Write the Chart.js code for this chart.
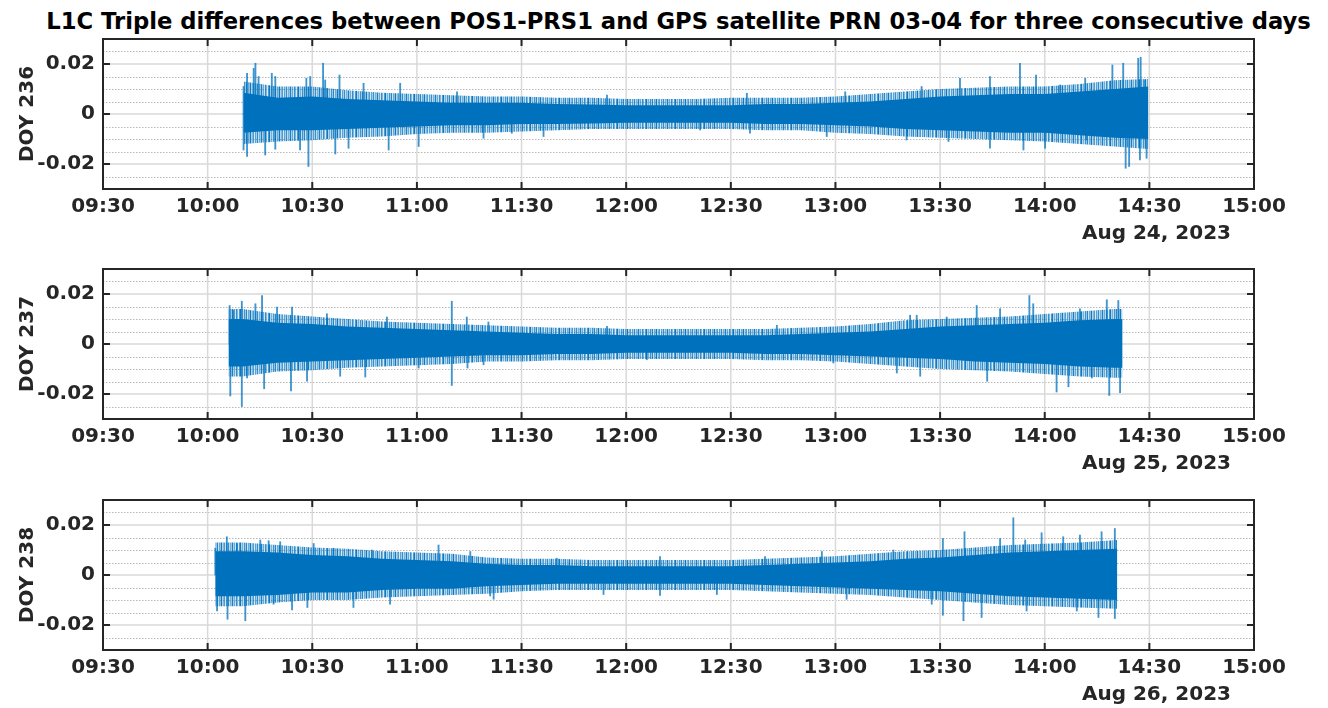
<!DOCTYPE html>
<html>
<head>
<meta charset="utf-8">
<script src="https://cdn.jsdelivr.net/npm/chart.js@4.4.1/dist/chart.umd.min.js"></script>
<style>
  html, body { margin: 0; padding: 0; background: #fff; overflow: hidden; }
  body { width: 1328px; height: 708px; position: relative; }
  #title {
    position: absolute; left: 0; top: 8px; width: 1357px;
    text-align: center; font: bold 22.7px "DejaVu Sans", sans-serif;
    line-height: 26px; color: #000; white-space: nowrap;
  }
  canvas { position: absolute; left: 0; }
</style>
</head>
<body>
<div id="title">L1C Triple differences between POS1-PRS1 and GPS satellite PRN 03-04 for three consecutive days</div>
<canvas id="c236" width="1328" height="220" style="top:30px"></canvas>
<canvas id="c237" width="1328" height="220" style="top:260px"></canvas>
<canvas id="c238" width="1328" height="220" style="top:491px"></canvas>
<script>
// x axis: minutes after 09:30
const timeTicks = ['09:30', '10:00', '10:30', '11:00', '11:30', '12:00', '12:30', '13:00', '13:30', '14:00', '14:30', '15:00'];
const yTickValues = [-0.02, 0, 0.02];
const yTickLabels = ['-0.02', '0', '0.02'];

// ---- DOY 236 (Aug 24) ----
const t236 = [40.3, 50, 60, 70, 80, 90, 100, 110, 120, 130, 140, 150, 160, 170, 180, 190, 200, 210, 220, 230, 240, 250, 260, 270, 280, 290, 299.7];
const coreHi236 = [0.0085, 0.0065, 0.007, 0.006, 0.0055, 0.005, 0.0045, 0.0045, 0.0045, 0.004, 0.0038, 0.0035, 0.0035, 0.0035, 0.0035, 0.004, 0.004, 0.0045, 0.005, 0.006, 0.007, 0.0075, 0.008, 0.008, 0.009, 0.010, 0.011];
const coreLo236 = [-0.0075, -0.0065, -0.0065, -0.006, -0.0055, -0.005, -0.0045, -0.0045, -0.004, -0.004, -0.0038, -0.0035, -0.0035, -0.0035, -0.0035, -0.004, -0.004, -0.0045, -0.005, -0.006, -0.0065, -0.007, -0.0075, -0.0075, -0.0085, -0.0095, -0.010];
const outerHi236 = [0.013, 0.011, 0.011, 0.0095, 0.0085, 0.008, 0.0075, 0.007, 0.007, 0.0065, 0.0065, 0.006, 0.006, 0.006, 0.0065, 0.0065, 0.0065, 0.007, 0.008, 0.009, 0.010, 0.0105, 0.011, 0.011, 0.012, 0.0135, 0.014];
const outerLo236 = [-0.012, -0.011, -0.0105, -0.0095, -0.009, -0.008, -0.0075, -0.0075, -0.007, -0.0065, -0.006, -0.006, -0.006, -0.006, -0.006, -0.0065, -0.0065, -0.0075, -0.008, -0.009, -0.0095, -0.010, -0.0105, -0.011, -0.012, -0.013, -0.014];
const spikes236 = [
  [40.3, 0.011], [40.3, -0.0144], [41.3, 0.0163], [41.3, -0.017], [43.2, 0.0183], [43.7, 0.0203], [44.6, 0.015],
  [46.5, -0.0164], [48.4, 0.0163], [49.4, 0.015], [49.4, -0.0141], [56.5, -0.0144], [58.3, 0.0143], [58.9, -0.021],
  [59.4, 0.015], [63.1, 0.0203], [63.7, 0.0136], [66.6, -0.016], [67.8, 0.0156], [70.4, -0.0137], [74.7, 0.0123],
  [81.9, -0.0144], [85.2, 0.0123], [90.5, -0.013], [101.5, 0.0089], [109.1, -0.0097], [117.2, -0.0077], [126.3, -0.009],
  [144.5, 0.0076], [171.2, -0.0064], [184.6, 0.0083], [185.5, -0.0077], [207.5, -0.009], [212.8, 0.0089], [230.4, -0.0104],
  [234.7, 0.011], [242.4, -0.011], [245.7, 0.0143], [254.3, 0.015], [254.3, -0.0137], [262.9, 0.0203], [263.9, -0.0144],
  [267.5, 0.0156], [270.1, -0.0137], [274.4, 0.0116], [281.6, 0.0143], [281.9, -0.0104], [289.4, 0.0196], [292.5, 0.0203],
  [293.2, -0.0217], [294.2, -0.021], [296.8, 0.0223], [297.3, -0.0184], [297.5, 0.0227], [298.8, 0.0136], [299.2, -0.0177]
];

// ---- DOY 237 (Aug 25) ----
const t237 = [36, 40, 50, 60, 70, 80, 90, 100, 110, 120, 130, 140, 150, 160, 170, 180, 190, 200, 210, 220, 230, 240, 250, 260, 270, 280, 290, 292.3];
const coreHi237 = [0.010, 0.010, 0.0085, 0.008, 0.007, 0.0065, 0.006, 0.0055, 0.005, 0.0045, 0.004, 0.004, 0.0035, 0.0035, 0.0035, 0.0035, 0.0035, 0.004, 0.0045, 0.005, 0.006, 0.007, 0.0075, 0.008, 0.0085, 0.0095, 0.010, 0.010];
const coreLo237 = [-0.009, -0.009, -0.0075, -0.007, -0.0065, -0.006, -0.0055, -0.005, -0.0045, -0.0045, -0.004, -0.004, -0.0035, -0.0035, -0.0035, -0.0035, -0.004, -0.004, -0.0045, -0.005, -0.0055, -0.006, -0.007, -0.0075, -0.008, -0.009, -0.0095, -0.0095];
const outerHi237 = [0.014, 0.014, 0.012, 0.011, 0.010, 0.009, 0.0085, 0.008, 0.0075, 0.007, 0.0065, 0.0065, 0.006, 0.006, 0.006, 0.006, 0.006, 0.0065, 0.007, 0.008, 0.0095, 0.010, 0.0105, 0.011, 0.012, 0.013, 0.014, 0.014];
const outerLo237 = [-0.013, -0.013, -0.011, -0.0105, -0.0095, -0.009, -0.0085, -0.008, -0.007, -0.007, -0.0065, -0.0065, -0.006, -0.006, -0.006, -0.006, -0.0065, -0.0065, -0.007, -0.008, -0.009, -0.010, -0.0105, -0.011, -0.012, -0.013, -0.0135, -0.0135];
const spikes237 = [
  [36.3, 0.0154], [36.5, -0.0208], [37.4, 0.0134], [39.8, 0.0171], [39.8, -0.025], [41.3, -0.0136], [43.7, 0.0161],
  [45.6, 0.0194], [46.2, -0.0179], [49.9, 0.0148], [53.9, -0.0188], [54.2, 0.0148], [58.5, -0.0149], [64.2, 0.0121],
  [68, -0.0129], [75.2, -0.0132], [81.4, 0.0108], [90.5, -0.0096], [100, 0.0171], [100, -0.0166], [104.3, 0.0108],
  [104.5, -0.0096], [109.1, -0.0083], [110.5, 0.0088], [144.5, 0.0071], [155.9, -0.0063], [193.2, 0.0075], [209.4, -0.0076],
  [227.6, -0.0116], [231.4, 0.0115], [233.3, 0.0115], [234.3, -0.0129], [241.9, 0.0108], [250.5, 0.0154], [253.5, -0.0149],
  [257.2, 0.0141], [265.6, 0.0194], [266.7, 0.0161], [273.4, -0.0192], [276.8, -0.0171], [280.1, 0.0141], [283.5, -0.0136],
  [287.8, 0.0177], [288.5, -0.0206], [291.1, 0.0174], [291.6, -0.0195]
];

// ---- DOY 238 (Aug 26) ----
const t238 = [32.2, 40, 50, 60, 70, 80, 90, 100, 110, 120, 130, 140, 150, 160, 170, 180, 190, 200, 210, 220, 230, 240, 250, 260, 270, 280, 290.8];
const coreHi238 = [0.0095, 0.0095, 0.009, 0.008, 0.0075, 0.0065, 0.006, 0.0055, 0.0045, 0.004, 0.004, 0.0035, 0.0035, 0.0035, 0.0035, 0.0035, 0.004, 0.0045, 0.005, 0.0055, 0.0065, 0.007, 0.008, 0.009, 0.0095, 0.010, 0.0105];
const coreLo238 = [-0.0085, -0.0085, -0.008, -0.007, -0.007, -0.006, -0.0055, -0.0055, -0.0045, -0.004, -0.0035, -0.0035, -0.0035, -0.0035, -0.0035, -0.0035, -0.004, -0.0045, -0.005, -0.0055, -0.006, -0.0065, -0.0075, -0.0085, -0.009, -0.0095, -0.010];
const outerHi238 = [0.013, 0.013, 0.012, 0.011, 0.0105, 0.0095, 0.009, 0.0085, 0.007, 0.0065, 0.0065, 0.006, 0.006, 0.006, 0.006, 0.006, 0.0065, 0.007, 0.0075, 0.0085, 0.0095, 0.010, 0.011, 0.012, 0.0125, 0.013, 0.014];
const outerLo238 = [-0.0125, -0.0125, -0.011, -0.010, -0.010, -0.009, -0.0085, -0.008, -0.0075, -0.0065, -0.006, -0.006, -0.006, -0.006, -0.006, -0.006, -0.0065, -0.007, -0.0075, -0.008, -0.009, -0.010, -0.011, -0.012, -0.0125, -0.013, -0.0135];
const spikes238 = [
  [32.2, 0.0107], [32.7, -0.0144], [35.5, 0.0153], [35.7, -0.0177], [38.4, 0.0126], [40.8, -0.0183], [45.1, 0.014],
  [47.5, 0.0137], [48.9, -0.0117], [50.8, 0.0133], [54.2, -0.014], [58.6, -0.013], [60.4, 0.0126], [66.1, 0.0107],
  [71.8, -0.013], [77.1, 0.01], [82.3, -0.0117], [96.2, 0.012], [105.3, 0.0094], [111, -0.0084], [112, -0.0097],
  [130.1, 0.0067], [143.5, -0.0078], [159.7, 0.0074], [159.7, -0.0082], [176, -0.0078], [189.8, 0.0074], [206.1, 0.0094],
  [213.2, -0.0097], [226.6, 0.01], [237.6, -0.0117], [240.8, 0.0146], [240.8, -0.0161], [246.7, -0.0183], [247, 0.0173],
  [251.9, -0.017], [257.2, 0.0146], [261, 0.0229], [264.4, 0.014], [264.8, -0.0144], [269.1, 0.0169], [275.3, 0.0153],
  [279.2, -0.0144], [280.1, 0.016], [285.4, -0.017], [286.3, 0.0173], [290.1, 0.0186], [290.1, -0.0174]
];

const BLUE = '#0072BD';
const TEXT = '#262626';
const FONT = '"DejaVu Sans", sans-serif';

// streaky fill for the sparse outer part of the noise band
function streakPattern() {
  const alphas = [0.9, 0.35, 0.6, 0.2, 0.8, 0.5, 0.15, 0.7, 0.95, 0.3, 0.55, 0.25, 0.75, 0.4, 0.85,
                  0.2, 0.6, 0.45, 0.95, 0.3, 0.5, 0.7, 0.15, 0.65, 0.35, 0.8, 0.25, 0.55, 0.4];
  const c = document.createElement('canvas');
  c.width = alphas.length; c.height = 1;
  const g = c.getContext('2d');
  alphas.forEach((a, i) => {
    g.fillStyle = 'rgba(0,114,189,' + a + ')';
    g.fillRect(i, 0, 1, 1);
  });
  return g.createPattern(c, 'repeat');
}
const STREAKS = streakPattern();

// grid, box, inward ticks and the side texts
const axesPlugin = {
  id: 'axesPlugin',
  beforeDatasetsDraw(chart) {
    const { ctx, chartArea: a, scales: { x, y } } = chart;
    ctx.save();
    // dotted minor lines every 0.005
    ctx.strokeStyle = '#b8b8b8';
    ctx.lineWidth = 1;
    ctx.setLineDash([1.5, 1.5]);
    for (let k = -5; k <= 5; k++) {
      if (k % 4 === 0) continue;
      const py = Math.round(y.getPixelForValue(k * 0.005)) + 0.5;
      ctx.beginPath(); ctx.moveTo(a.left, py); ctx.lineTo(a.right, py); ctx.stroke();
    }
    ctx.setLineDash([]);
    ctx.strokeStyle = '#d9d9d9';
    ctx.lineWidth = 1.5;
    yTickValues.forEach(v => {
      const py = y.getPixelForValue(v);
      ctx.beginPath(); ctx.moveTo(a.left, py); ctx.lineTo(a.right, py); ctx.stroke();
    });
    timeTicks.forEach((_, i) => {
      const px = x.getPixelForValue(i * 30);
      ctx.beginPath(); ctx.moveTo(px, a.top); ctx.lineTo(px, a.bottom); ctx.stroke();
    });
    ctx.restore();
  },
  afterDatasetsDraw(chart, args, opts) {
    const { ctx, chartArea: a, scales: { x, y } } = chart;
    ctx.save();
    ctx.strokeStyle = TEXT;
    ctx.lineWidth = 2;
    timeTicks.forEach((_, i) => {
      const px = x.getPixelForValue(i * 30);
      ctx.beginPath();
      ctx.moveTo(px, a.top); ctx.lineTo(px, a.top + 7);
      ctx.moveTo(px, a.bottom); ctx.lineTo(px, a.bottom - 7);
      ctx.stroke();
    });
    yTickValues.forEach(v => {
      const py = y.getPixelForValue(v);
      ctx.beginPath();
      ctx.moveTo(a.left, py); ctx.lineTo(a.left + 7, py);
      ctx.moveTo(a.right, py); ctx.lineTo(a.right - 7, py);
      ctx.stroke();
    });
    ctx.strokeRect(a.left, a.top, a.right - a.left, a.bottom - a.top);

    ctx.fillStyle = TEXT;
    ctx.font = 'bold 20px ' + FONT;
    ctx.textBaseline = 'middle';
    ctx.textAlign = 'right';
    ctx.fillText(opts.date, a.right - 23, a.bottom + 45);
    ctx.translate(28, (a.top + a.bottom) / 2);
    ctx.rotate(-Math.PI / 2);
    ctx.textAlign = 'center';
    ctx.fillText(opts.doy, 0, 0);
    ctx.restore();
  }
};

function band(times, values, fill, color) {
  return {
    type: 'line',
    data: times.map((t, i) => ({ x: t, y: values[i] })),
    borderColor: 'rgba(0,0,0,0)',
    borderWidth: 0,
    pointRadius: 0,
    tension: 0,
    fill: fill,
    backgroundColor: color
  };
}

function makePanel(id, times, coreHi, coreLo, outerHi, outerLo, spikes, doy, date) {
  new Chart(document.getElementById(id), {
    type: 'line',
    data: {
      datasets: [
        band(times, outerHi, false, 'rgba(0,0,0,0)'),
        band(times, outerLo, '-1', STREAKS),
        band(times, coreHi, false, 'rgba(0,0,0,0)'),
        band(times, coreLo, '-1', BLUE),
        {
          type: 'bar',
          data: spikes.map(([t, v]) => ({ x: t, y: [0, v] })),
          backgroundColor: 'rgba(0,114,189,0.75)',
          borderWidth: 0,
          barThickness: 1.2
        }
      ]
    },
    options: {
      responsive: false,
      animation: false,
      devicePixelRatio: 1,
      layout: { padding: { top: 9, right: 74, left: 0, bottom: 0 } },
      plugins: {
        legend: { display: false },
        tooltip: { enabled: false },
        axesPlugin: { doy: doy, date: date }
      },
      scales: {
        x: {
          type: 'linear', min: 0, max: 330, offset: false,
          grid: { display: false, drawTicks: false },
          border: { display: false },
          ticks: {
            stepSize: 30, autoSkip: false, maxRotation: 0, padding: 6,
            color: TEXT, font: { family: FONT, size: 20, weight: 'bold' },
            callback: v => timeTicks[Math.round(v / 30)]
          },
          afterFit: s => { s.height = 61; s.paddingLeft = 0; s.paddingRight = 0; }
        },
        y: {
          min: -0.03, max: 0.03,
          grid: { display: false, drawTicks: false },
          border: { display: false },
          ticks: {
            stepSize: 0.005, autoSkip: false, padding: 8,
            color: TEXT, font: { family: FONT, size: 20, weight: 'bold' },
            callback: v => {
              const k = yTickValues.findIndex(t => Math.abs(t - v) < 1e-6);
              return k < 0 ? '' : yTickLabels[k];
            }
          },
          afterFit: s => { s.width = 103; s.paddingTop = 0; s.paddingBottom = 0; }
        }
      }
    },
    plugins: [axesPlugin]
  });
}

makePanel('c236', t236, coreHi236, coreLo236, outerHi236, outerLo236, spikes236, 'DOY 236', 'Aug 24, 2023');
makePanel('c237', t237, coreHi237, coreLo237, outerHi237, outerLo237, spikes237, 'DOY 237', 'Aug 25, 2023');
makePanel('c238', t238, coreHi238, coreLo238, outerHi238, outerLo238, spikes238, 'DOY 238', 'Aug 26, 2023');
</script>
</body>
</html>
